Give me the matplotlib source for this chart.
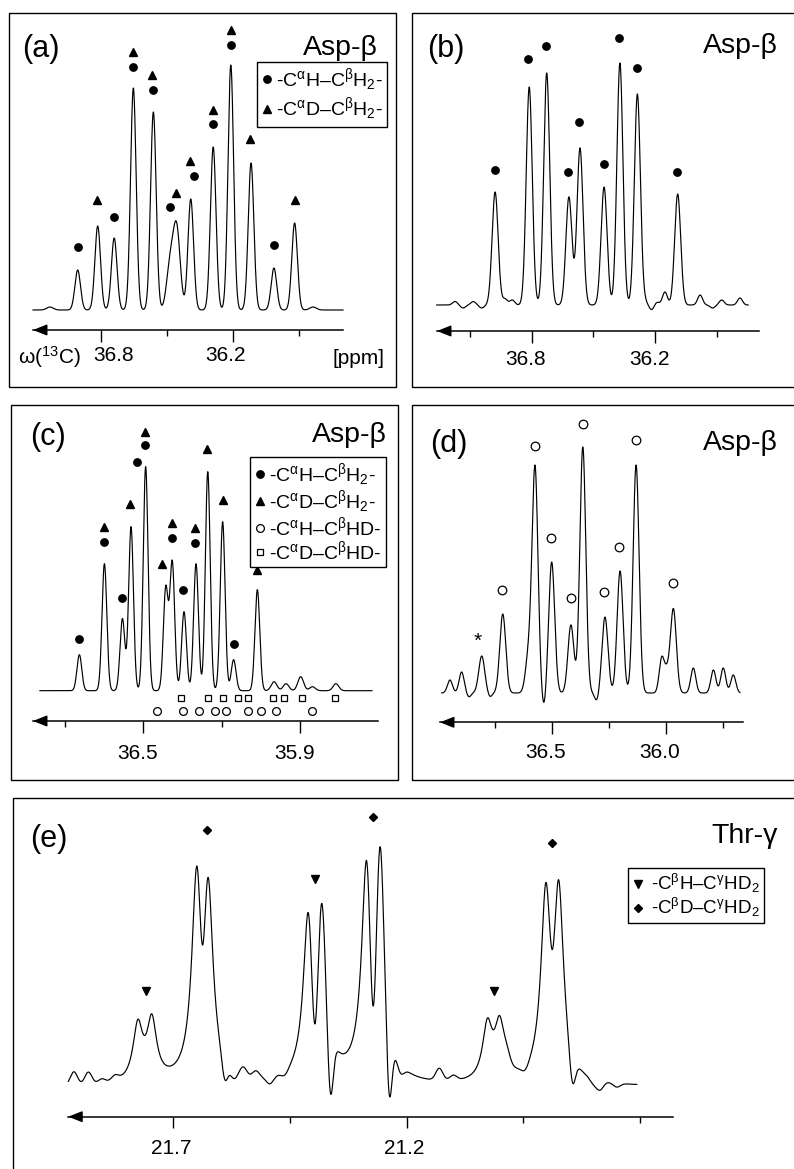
import numpy as np
import matplotlib
matplotlib.use("Agg")
import matplotlib.pyplot as plt
from matplotlib.lines import Line2D
from matplotlib.patches import Rectangle
from matplotlib.transforms import ScaledTranslation

plt.rcParams['font.family'] = ['Liberation Sans', 'DejaVu Sans']
plt.rcParams['mathtext.fontset'] = 'custom'
plt.rcParams['mathtext.rm'] = 'Liberation Sans'
plt.rcParams['mathtext.it'] = 'Liberation Sans:italic'
plt.rcParams['mathtext.bf'] = 'Liberation Sans:bold'
plt.rcParams['mathtext.default'] = 'regular'

# ======================= DATA =======================
# ---- panel (a): Asp-beta ----
a_peak_ppm = [36.906, 36.815, 36.740, 36.653, 36.562, 36.486, 36.456, 36.392, 36.290,
              36.210, 36.118, 36.014, 35.920, 37.032, 35.836]
a_peak_hgt = [40, 84, 72, 222, 198, 44, 80, 111, 163, 245, 147, 42, 87, 3, 3]
a_peak_wid = [0.0127, 0.0127, 0.0127, 0.0127, 0.0127, 0.016, 0.016, 0.0127, 0.0127,
              0.0127, 0.0127, 0.0127, 0.0127, 0.015, 0.015]
a_range = [37.109, 35.700]
a_circ_ppm = [36.906, 36.741, 36.656, 36.562, 36.486, 36.376, 36.290, 36.209, 36.014]
a_circ_y = [63, 93, 243, 220, 103, 134, 186, 265, 65]
a_tri_ppm = [36.817, 36.656, 36.567, 36.460, 36.395, 36.293, 36.209, 36.123, 35.920]
a_tri_y = [110, 258, 235, 117, 149, 200, 280, 171, 110]
a_major = [36.8, 36.2]
a_major_labels = ["36.8", "36.2"]
a_minor = [36.5, 35.9]

# ---- panel (b): Asp-beta ----
b_peak_ppm = [36.978, 36.812, 36.727, 36.619, 36.565, 36.448, 36.371, 36.286, 36.090,
              37.173, 37.134, 37.084, 37.043, 36.930, 36.895, 36.249, 36.216, 36.192,
              36.152, 35.981, 35.876, 35.787, 35.920]
b_peak_hgt = [113, 218, 232, 108, 157, 118, 242, 211, 111,
              3.5, -3, 3.5, -3, 6, 5, 3, -5, 3, 13, 10, 5, 7, -3]
b_peak_wid = [0.0146] * 9 + [0.012] * 14
b_range = [37.262, 35.747]
b_circ_ppm = [36.978, 36.817, 36.732, 36.622, 36.568, 36.448, 36.374, 36.286, 36.092]
b_circ_y = [135, 246, 259, 133, 183, 141, 267, 237, 133]
b_major = [36.8, 36.2]
b_major_labels = ["36.8", "36.2"]
b_minor = [37.1, 36.5, 35.9]

# ---- panel (c): Asp-beta ----
c_peak_ppm = [36.745, 36.649, 36.580, 36.547, 36.491, 36.414, 36.389, 36.344, 36.298,
              36.253, 36.196, 36.154, 36.063, 35.999, 35.953, 35.897, 35.852, 35.762]
c_peak_hgt = [36, 127, 72, 164, 224, 102, 128, 79, 127, 219, 169, 31, 101, 9, 7, 14, 4, 7]
c_peak_wid = [0.0092] * 13 + [0.011] * 5
c_range = [36.896, 35.624]
c_circ_ppm = [36.745, 36.651, 36.583, 36.525, 36.493, 36.391, 36.347, 36.302, 36.153]
c_circ_y = [52, 149, 93, 229, 246, 153, 101, 148, 47]
c_tri_ppm = [36.651, 36.551, 36.493, 36.428, 36.391, 36.302, 36.257, 36.196, 36.063]
c_tri_y = [164, 187, 259, 127, 168, 163, 242, 191, 121]
c_sq_ppm = [36.355, 36.253, 36.196, 36.136, 36.098, 36.004, 35.961, 35.893, 35.764]
c_sq_y = [-7] * 9
c_oc_ppm = [36.449, 36.347, 36.285, 36.225, 36.183, 36.098, 36.049, 35.992, 35.852]
c_oc_y = [-20] * 9
c_major = [36.5, 35.9]
c_major_labels = ["36.5", "35.9"]
c_minor = [36.8, 36.2]

# ---- panel (d): Asp-beta ----
d_peak_ppm = [36.714, 36.573, 36.602, 36.500, 36.416, 36.364, 36.267, 36.201, 36.131,
              35.968, 36.806, 36.945, 36.894, 36.019, 35.997, 35.881, 35.793, 35.750,
              35.706, 36.534, 36.303, 36.862, 36.770]
d_peak_hgt = [79, 225, 35, 131, 68, 246, 76, 122, 228, 84, 37, 13, 21, 34, 18, 25, 23,
              25, 18, -16, -8, -4, -4]
d_peak_wid = [0.013] * 11 + [0.011] * 8 + [0.009] * 4
d_range = [36.981, 35.677]
d_oc_ppm = [36.719, 36.573, 36.504, 36.416, 36.364, 36.270, 36.204, 36.131, 35.971]
d_oc_y = [103, 247, 155, 95, 269, 101, 146, 253, 110]
d_star_ppm = [36.825]
d_star_y = [52]
d_major = [36.5, 36.0]
d_major_labels = ["36.5", "36.0"]
d_minor = [36.75, 36.25, 35.75]

# ---- panel (e): Thr-gamma ----
e_peak_ppm = [21.776, 21.746, 21.650, 21.625, 21.411, 21.382, 21.286, 21.257,
              21.027, 21.001, 20.902, 20.874,
              21.6375, 21.3965, 21.2715, 20.888, 21.364, 21.238, 21.590, 20.845,
              21.913, 21.882, 21.853, 21.825, 21.571, 21.550, 21.523, 21.493, 21.461,
              21.214, 21.130, 21.100, 20.986, 20.946, 20.800, 20.786, 20.750]
e_peak_hgt = [55, 59, 186, 172, 150, 160, 195, 214, 54, 54, 173, 177,
              -40, -75, -98, -20, -75, -85, -22, -32,
              13, 12, 4, 5, -8, 9, 7, -7, -5, -11, 12, 5, 10, -6, -5, -9, -4]
e_peak_wid = [0.0125] * 12 + [0.0054, 0.0064, 0.0064, 0.0054, 0.0062, 0.0062, 0.0062, 0.0062] \
             + [0.0075] * 17
e_peak_kind = ['L'] * 12 + ['G'] * 25
e_range = [21.925, 20.707]
e_tri_ppm = [21.758, 21.396, 21.013]
e_tri_y = [96, 208, 96]
e_dia_ppm = [21.628, 21.273, 20.889]
e_dia_y = [257, 270, 244]
e_major = [21.7, 21.2]
e_major_labels = ["21.7", "21.2"]
e_minor = [21.45, 20.95, 20.7]

lab_ab = ["-C$^{α}$H–C$^{β}$H$_2$-", "-C$^{α}$D–C$^{β}$H$_2$-"]
lab_c = lab_ab + ["-C$^{α}$H–C$^{β}$HD-", "-C$^{α}$D–C$^{β}$HD-"]
lab_e = ["-C$^{β}$H–C$^{γ}$HD$_2$", "-C$^{β}$D–C$^{γ}$HD$_2$"]

# ======================= DRAWING =======================
W, H = 794, 1169
fig = plt.figure(figsize=(W / 100, H / 100), dpi=100)
LW = 0.85


def fx(px):
    return px / W


def fy(py):
    return 1 - py / H


def spectrum(x, pos, hgt, wid, kind=None):
    y = np.zeros_like(x)
    for i, (p, h, w) in enumerate(zip(pos, hgt, wid)):
        k = kind[i] if kind is not None else 'G'
        if k == 'G':
            y += h * np.exp(-0.5 * ((x - p) / w) ** 2)
        else:
            y += h / (1 + ((x - p) / w) ** 2)
    return y


def panel(box, x0, p0, scale, base, arrow_py, tip_px, end_px,
          major, labels, minor, pad, label_dx, maj_len=8.5, min_len=4.5):
    l, t, r, b = box
    ax = fig.add_axes([fx(l), fy(b), (r - l) / W, (b - t) / H])
    ax.set_xlim(p0 + (x0 - l) / scale, p0 - (r - x0) / scale)
    ax.set_ylim(base - b, base - t)
    ax.patch.set_alpha(0)
    for s in ['top', 'left', 'right']:
        ax.spines[s].set_visible(False)
    ya = base - arrow_py
    tip = p0 + (x0 - tip_px) / scale
    end = p0 - (end_px - x0) / scale
    sp = ax.spines['bottom']
    sp.set_position(('data', ya))
    sp.set_bounds(end, tip)
    sp.set_linewidth(1.1)
    ax.set_xticks(major, labels)
    ax.set_xticks(minor, minor=True)
    ax.tick_params(axis='x', which='major', length=maj_len, width=1.0, pad=pad,
                   labelsize=15, direction='out')
    ax.tick_params(axis='x', which='minor', length=min_len, width=1.0, direction='out')
    ax.set_yticks([])
    for lab, dx in zip(ax.get_xticklabels(), label_dx):
        lab.set_transform(lab.get_transform() + ScaledTranslation(dx / 100, 0, fig.dpi_scale_trans))
    ax.annotate('', xy=(tip, ya), xytext=(tip - 12 / scale, ya),
                arrowprops=dict(arrowstyle='-|>,head_length=0.7,head_width=0.28',
                                lw=1.1, color='k', mutation_scale=12,
                                shrinkA=0, shrinkB=0),
                annotation_clip=False)
    ax.add_patch(Rectangle((0, 0), 1, 1, transform=ax.transAxes, fill=False,
                           lw=1.0, ec='k', clip_on=False))
    return ax


def draw_spec(ax, rng, pos, hgt, wid, kind=None):
    x = np.linspace(rng[0], rng[1], 3000)
    ax.plot(x, spectrum(x, pos, hgt, wid, kind), color='k', lw=LW)


def ftext(px, py, s, size, ha='left', va='baseline'):
    fig.text(fx(px), fy(py), s, fontsize=size, ha=ha, va=va)


def legend(ax, handles, labels, px, py, size, spacing, textpad=0.15):
    leg = ax.legend(handles, labels, loc='upper left', bbox_to_anchor=(fx(px), fy(py)),
                    bbox_transform=fig.transFigure, frameon=True, fancybox=False,
                    edgecolor='k', framealpha=1, fontsize=size, handlelength=0.6,
                    handletextpad=textpad, borderpad=0.22, labelspacing=spacing,
                    borderaxespad=0)
    leg.get_frame().set_linewidth(1.0)


fc = Line2D([], [], marker='o', ls='none', color='k', ms=5.3)
ft = Line2D([], [], marker='^', ls='none', color='k', ms=5.6)
oc = Line2D([], [], marker='o', ls='none', mfc='none', mec='k', mew=0.9, ms=5.6)
os_ = Line2D([], [], marker='s', ls='none', mfc='none', mec='k', mew=0.9, ms=5.0)

# ---- (a) ----
ax = panel((9, 13, 396, 387), 101, 36.8, 220, 310, 330, 33, 343,
           a_major, a_major_labels, a_minor, 3, [13, -7])
draw_spec(ax, a_range, a_peak_ppm, a_peak_hgt, a_peak_wid)
ax.plot(a_circ_ppm, a_circ_y, 'o', color='k', ms=5.3)
ax.plot(a_tri_ppm, a_tri_y, '^', color='k', ms=5.6)
legend(ax, [fc, ft], lab_ab, 257, 62, 14, 0.12)
ftext(22, 57, "(a)", 22)
ftext(378, 55, "Asp-β", 20.5, ha='right')
ftext(18, 364, "ω($^{13}$C)", 15)
ftext(333, 364, "[ppm]", 15)

# ---- (b) ----
ax = panel((412, 13, 800, 387), 531.7, 36.8, 205.6, 305, 331, 437, 759,
           b_major, b_major_labels, b_minor, 5, [-6, -6])
draw_spec(ax, b_range, b_peak_ppm, b_peak_hgt, b_peak_wid)
ax.plot(b_circ_ppm, b_circ_y, 'o', color='k', ms=5.3)
ftext(427, 57, "(b)", 22)
ftext(778, 53, "Asp-β", 20.5, ha='right')

# ---- (c) ----
ax = panel((11, 405, 398, 780), 143.3, 36.5, 261, 690.7, 721, 33, 378,
           c_major, c_major_labels, c_minor, 8, [-6, -5])
draw_spec(ax, c_range, c_peak_ppm, c_peak_hgt, c_peak_wid)
ax.plot(c_circ_ppm, c_circ_y, 'o', color='k', ms=5.3)
ax.plot(c_tri_ppm, c_tri_y, '^', color='k', ms=5.6)
ax.plot(c_sq_ppm, c_sq_y, 's', mfc='none', mec='k', mew=0.9, ms=5.0)
ax.plot(c_oc_ppm, c_oc_y, 'o', mfc='none', mec='k', mew=0.9, ms=5.6)
legend(ax, [fc, ft, oc, os_], lab_c, 250, 457, 14, 0.0)
ftext(30, 445, "(c)", 22)
ftext(387, 442, "Asp-β", 20.5, ha='right')

# ---- (d) ----
ax = panel((412, 405, 800, 780), 551.7, 36.5, 228.7, 693, 722.3, 440, 742.7,
           d_major, d_major_labels, d_minor, 6.5, [-6, -6])
draw_spec(ax, d_range, d_peak_ppm, d_peak_hgt, d_peak_wid)
ax.plot(d_oc_ppm, d_oc_y, 'o', mfc='none', mec='k', mew=0.9, ms=6.2)
for sx, sy in zip(d_star_ppm, d_star_y):
    ax.text(sx, sy, "*", fontsize=15, ha='center', va='center')
ftext(430, 452, "(d)", 22)
ftext(778, 450, "Asp-β", 20.5, ha='right')

# ---- (e) ----
ax = panel((13, 798, 800, 1172), 173.3, 21.7, 466.7, 1086.7, 1116.7, 68.3, 673.3,
           e_major, e_major_labels, e_minor, 8, [-2, -2], maj_len=8, min_len=4)
draw_spec(ax, e_range, e_peak_ppm, e_peak_hgt, e_peak_wid, e_peak_kind)
ax.plot(e_tri_ppm, e_tri_y, 'v', color='k', ms=5.6)
ax.plot(e_dia_ppm, e_dia_y, 'D', color='k', ms=3.8)
fv = Line2D([], [], marker='v', ls='none', color='k', ms=5.6)
fd = Line2D([], [], marker='D', ls='none', color='k', ms=3.8)
legend(ax, [fv, fd], lab_e, 628, 868, 13.5, 0.05, textpad=0.4)
ftext(30, 847, "(e)", 22)
ftext(778, 843, "Thr-γ", 20.5, ha='right')

fig.savefig("out.png", dpi=100)
